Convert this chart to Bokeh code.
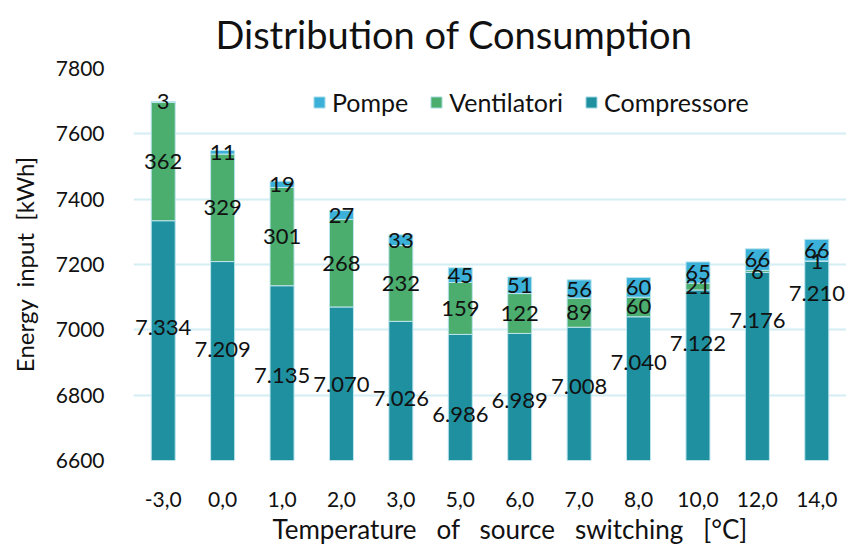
from bokeh.plotting import figure
from bokeh.models import (ColumnDataSource, FixedTicker, Legend, LegendItem, Title)
from bokeh.core.properties import value
from bokeh.embed import file_html
from bokeh.resources import INLINE

# ---- data ----
categories = ["-3,0", "0,0", "1,0", "2,0", "3,0", "5,0", "6,0", "7,0", "8,0", "10,0", "12,0", "14,0"]
compressore = [7334, 7209, 7135, 7070, 7026, 6986, 6989, 7008, 7040, 7122, 7176, 7210]
ventilatori = [362, 329, 301, 268, 232, 159, 122, 89, 60, 21, 6, 1]
pompe = [3, 11, 19, 27, 33, 45, 51, 56, 60, 65, 66, 66]
y_ticks = [6600, 6800, 7000, 7200, 7400, 7600, 7800]

# manual label nudges (kWh) for the compressor labels, as placed in the original
comp_label_nudge = [40, 36, -7, -2, -23, -52, -10, 23, 80, 97, 141, 206]

FONT = "Lato"
C_COMP = "#1E90A0"
C_VENT = "#4BAD6E"
C_POMP = "#3BB0D8"
GRID = "#D4EEF3"
TXT = "#111111"
SP = "\u00a0\u00a0"
SP3 = "\u00a0\u00a0\u00a0"

Y0, Y1 = 6600, 7800
xs = list(range(len(categories)))

def fmt(v):
    return f"{v:,}".replace(",", ".")

src = ColumnDataSource(dict(
    x=xs,
    comp=compressore,
    vent=ventilatori,
    pomp=pompe,
))

p = figure(width=846, height=548, output_backend="svg", toolbar_location=None,
           x_range=(-0.5, 11.5), y_range=(Y0, Y1),
           min_border_left=133, min_border_right=0, min_border_top=68, min_border_bottom=88)

renderers = p.vbar_stack(["comp", "vent", "pomp"], x="x", width=0.404, source=src,
                         color=[C_COMP, C_VENT, C_POMP], line_color="#BDE5EE", line_width=1)

# labels
comp_lab = ColumnDataSource(dict(
    x=xs,
    y=[(Y0 + c) / 2 + n for c, n in zip(compressore, comp_label_nudge)],
    t=[fmt(c) for c in compressore],
))
vent_lab = ColumnDataSource(dict(
    x=xs,
    y=[c + v / 2 for c, v in zip(compressore, ventilatori)],
    t=[fmt(v) for v in ventilatori],
))
pomp_lab = ColumnDataSource(dict(
    x=xs,
    y=[c + v + q / 2 for c, v, q in zip(compressore, ventilatori, pompe)],
    t=[fmt(q) for q in pompe],
))
for s in (comp_lab, vent_lab, pomp_lab):
    p.text(x="x", y="y", text="t", source=s, text_align="center", text_baseline="middle",
           text_font=value(FONT), text_font_size="22px", text_color=TXT)

# axes
p.xaxis.ticker = FixedTicker(ticks=xs)
p.xaxis.major_label_overrides = {i: c for i, c in enumerate(categories)}
p.yaxis.ticker = FixedTicker(ticks=y_ticks)
for ax in (p.xaxis, p.yaxis):
    ax.axis_line_color = None
    ax.major_tick_line_color = None
    ax.minor_tick_line_color = None
    ax.major_label_text_font = FONT
    ax.major_label_text_font_size = "21px"
    ax.major_label_text_color = TXT
p.xaxis.major_label_standoff = 25
p.yaxis.major_label_standoff = 23
p.yaxis.axis_label = "Energy" + SP + "input" + SP + "[kWh]"
p.yaxis.axis_label_text_font = FONT
p.yaxis.axis_label_text_font_size = "24px"
p.yaxis.axis_label_text_font_style = "normal"
p.yaxis.axis_label_text_color = TXT
p.yaxis.axis_label_standoff = 14

p.xgrid.grid_line_color = None
p.ygrid.grid_line_color = GRID
p.ygrid.grid_line_width = 2
p.outline_line_color = None

# title
p.title.text = "Distribution of Consumption"
p.title.text_font = FONT
p.title.text_font_size = "38px"
p.title.text_font_style = "normal"
p.title.text_color = TXT
p.title.align = "left"
p.title.offset = 82
p.title.standoff = 19
p.title.vertical_align = "top"

xt = Title(text="Temperature" + SP3 + "of" + SP3 + "source" + SP3 + "switching" + SP3 + "[\u00b0C]",
           align="left", offset=139, standoff=2,
           text_font=FONT, text_font_size="26px", text_font_style="normal", text_color=TXT)
p.add_layout(xt, "below")

# legend
items = [LegendItem(label="Pompe", renderers=[renderers[2]]),
         LegendItem(label="Ventilatori", renderers=[renderers[1]]),
         LegendItem(label="Compressore", renderers=[renderers[0]])]
leg = Legend(items=items, orientation="horizontal", location=(179, 343),
             background_fill_alpha=0, border_line_color=None,
             label_text_font=FONT, label_text_font_size="25px", label_text_color=TXT,
             glyph_width=14, glyph_height=14, label_standoff=6, spacing=21, padding=0, margin=0)
p.add_layout(leg)

p.background_fill_color = "white"
p.border_fill_color = "white"

open("out.html", "w").write(file_html(p, INLINE))
